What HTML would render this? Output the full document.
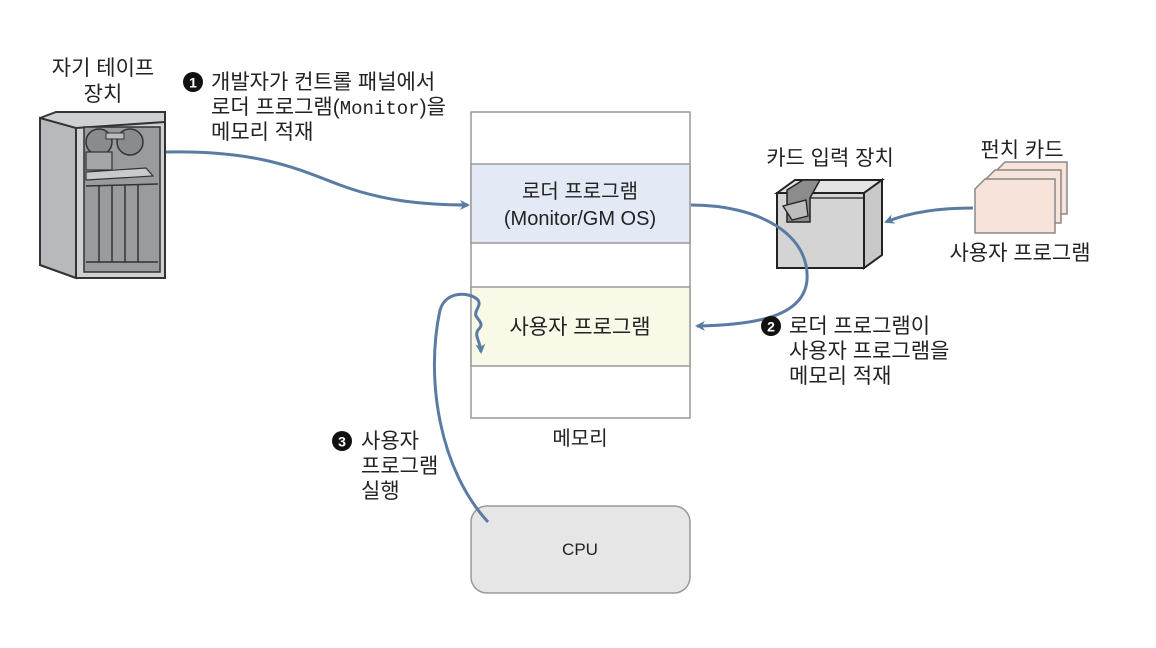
<!DOCTYPE html>
<html><head><meta charset="utf-8"><style>
html,body{margin:0;padding:0;background:#fff;}
svg{display:block;}
text{font-family:"Liberation Sans","Noto Sans CJK KR",sans-serif;fill:#222;}
</style></head><body>
<svg width="1156" height="648" viewBox="0 0 1156 648" xmlns="http://www.w3.org/2000/svg">
<defs>
<marker id="ah" markerWidth="10" markerHeight="10" refX="8" refY="5" orient="auto" markerUnits="userSpaceOnUse">
<path d="M0,0 L10,5 L0,10 L3,5 Z" fill="#5a7ba3"/></marker>
</defs>

<!-- Memory -->
<rect x="471" y="112" width="219" height="306" fill="#fff" stroke="#999" stroke-width="1.5"/>
<rect x="471" y="164" width="219" height="79" fill="#e3eaf6" stroke="#999" stroke-width="1.5"/>
<rect x="471" y="287" width="219" height="79" fill="#f8f9e7" stroke="#999" stroke-width="1.5"/>
<text x="580" y="198" font-size="20" text-anchor="middle">로더 프로그램</text>
<text x="580" y="225" font-size="20" text-anchor="middle">(Monitor/GM OS)</text>
<text x="580" y="334" font-size="21" text-anchor="middle">사용자 프로그램</text>
<text x="580" y="445" font-size="20" text-anchor="middle">메모리</text>

<!-- CPU -->
<rect x="471" y="506" width="219" height="87" rx="16" fill="#e6e6e6" stroke="#999" stroke-width="1.5"/>
<text x="580" y="555" font-size="17" text-anchor="middle">CPU</text>

<!-- Tape device -->
<polygon points="40,118 56,112 165,112 165,278 76,278 40,265" fill="#cfd0d3" stroke="#333" stroke-width="2"/>
<polygon points="40,118 76,128 76,278 40,265" fill="#b8b9bc" stroke="#333" stroke-width="2"/>
<line x1="76" y1="128" x2="165" y2="122" stroke="#333" stroke-width="2"/>
<rect x="84" y="127" width="76" height="145" fill="#9a9b9e" stroke="#333" stroke-width="1.5"/>
<circle cx="99" cy="142" r="13" fill="#8a8b8e" stroke="#333" stroke-width="1.5"/>
<circle cx="130" cy="142" r="13" fill="#8a8b8e" stroke="#333" stroke-width="1.5"/>
<rect x="106" y="133" width="18" height="6" fill="#bbb" stroke="#333"/>
<rect x="86" y="152" width="26" height="18" fill="#a5a6a9" stroke="#333" stroke-width="1.2"/>
<polygon points="86,172 146,168 153,176 86,180" fill="#c9cacd" stroke="#333" stroke-width="1.2"/>
<line x1="86" y1="186" x2="158" y2="184" stroke="#333" stroke-width="1.5"/>
<line x1="99" y1="186" x2="99" y2="262" stroke="#333" stroke-width="1.5"/>
<line x1="112" y1="186" x2="112" y2="262" stroke="#333" stroke-width="1.5"/>
<line x1="125" y1="185" x2="125" y2="262" stroke="#333" stroke-width="1.5"/>
<line x1="138" y1="185" x2="138" y2="262" stroke="#333" stroke-width="1.5"/>
<line x1="86" y1="262" x2="158" y2="262" stroke="#333" stroke-width="1.5"/>
<text x="103" y="75" font-size="21" text-anchor="middle">자기 테이프</text>
<text x="103" y="101" font-size="21" text-anchor="middle">장치</text>

<!-- Label 1 -->
<circle cx="193" cy="82" r="10" fill="#111"/>
<text x="193" y="87.5" font-size="14" font-weight="bold" text-anchor="middle" style="fill:#fff">1</text>
<text x="211" y="89" font-size="21">개발자가 컨트롤 패널에서</text>
<text x="211" y="114" font-size="21">로더 프로그램(<tspan font-family="Liberation Mono" font-size="19">Monitor</tspan>)을</text>
<text x="211" y="139" font-size="21">메모리 적재</text>

<!-- Arrow 1 -->
<path d="M166,152 C260,150 300,170 340,185 C380,200 420,205 468,205" fill="none" stroke="#5a7ba3" stroke-width="3" marker-end="url(#ah)"/>

<!-- Card reader -->
<polygon points="777,193 795,180 882,180 864,193" fill="#e4e4e4" stroke="#222" stroke-width="2"/>
<polygon points="864,193 882,180 882,255 864,268" fill="#c8c8c8" stroke="#222" stroke-width="2"/>
<rect x="777" y="193" width="87" height="75" fill="#d4d4d4" stroke="#222" stroke-width="2"/>
<polygon points="787,190 803,180 820,180 810,198 810,222 787,222" fill="#8c8c8c" stroke="#222" stroke-width="1.5"/>
<polygon points="783,206 806,200 808,216 792,220" fill="#bdbdbd" stroke="#222" stroke-width="1.3"/>
<line x1="810" y1="198" x2="864" y2="198" stroke="#222" stroke-width="1.3"/>
<line x1="820" y1="180" x2="836" y2="180" stroke="#222" stroke-width="1.3"/>
<text x="830" y="165" font-size="21" text-anchor="middle">카드 입력 장치</text>

<!-- Punch cards -->
<polygon points="995,172 1005,162 1067,162 1067,214 995,214" fill="#f7e3da" stroke="#888" stroke-width="1.5"/>
<polygon points="985,180 995,170 1061,170 1061,223 985,223" fill="#f7e3da" stroke="#888" stroke-width="1.5"/>
<polygon points="975,189 985,179 1055,179 1055,233 975,233" fill="#f7e3da" stroke="#888" stroke-width="1.5"/>
<text x="1022" y="157" font-size="21" text-anchor="middle">펀치 카드</text>
<text x="1020" y="260" font-size="21" text-anchor="middle">사용자 프로그램</text>

<!-- Arrow card->reader -->
<path d="M973,208 C940,208 910,212 886,222" fill="none" stroke="#5a7ba3" stroke-width="3" marker-end="url(#ah)"/>

<!-- Arrow 2 -->
<path d="M691,205 C760,205 810,235 807,280 C804,315 760,325 697,326" fill="none" stroke="#5a7ba3" stroke-width="3" marker-end="url(#ah)"/>
<circle cx="771" cy="326" r="10" fill="#111"/>
<text x="771" y="331.5" font-size="14" font-weight="bold" text-anchor="middle" style="fill:#fff">2</text>
<text x="789" y="333" font-size="21">로더 프로그램이</text>
<text x="789" y="358" font-size="21">사용자 프로그램을</text>
<text x="789" y="383" font-size="21">메모리 적재</text>

<!-- Arrow 3 -->
<path d="M488,522 C440,470 425,380 440,310 C446,290 470,292 478,300 C482,306 474,310 476,316 C480,322 484,324 478,330 C474,336 480,340 481,352" fill="none" stroke="#5a7ba3" stroke-width="3" marker-end="url(#ah)"/>
<circle cx="342" cy="441" r="10" fill="#111"/>
<text x="342" y="446.5" font-size="14" font-weight="bold" text-anchor="middle" style="fill:#fff">3</text>
<text x="361" y="448" font-size="21">사용자</text>
<text x="361" y="473" font-size="21">프로그램</text>
<text x="361" y="498" font-size="21">실행</text>
</svg>
</body></html>
